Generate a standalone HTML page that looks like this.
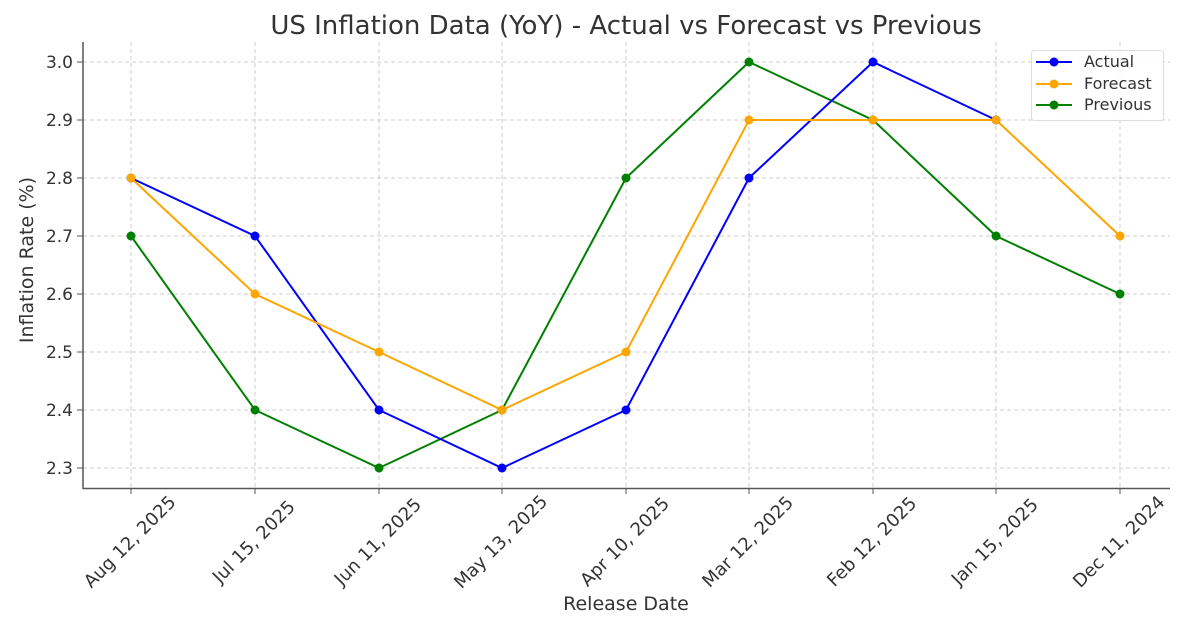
<!DOCTYPE html>
<html><head><style>body{margin:0;background:#fff}</style></head><body>
<svg width="1200" height="630" xmlns="http://www.w3.org/2000/svg" font-family="DejaVu Sans, sans-serif">
<rect width="1200" height="630" fill="#fff"/>
<text x="626" y="34" font-size="26" text-anchor="middle" fill="#333">US Inflation Data (YoY) - Actual vs Forecast vs Previous</text>
<g stroke="#ccc" stroke-dasharray="4,3" stroke-width="1">
<line x1="83" x2="1170" y1="62" y2="62"/><line x1="83" x2="1170" y1="120" y2="120"/><line x1="83" x2="1170" y1="178" y2="178"/><line x1="83" x2="1170" y1="236" y2="236"/><line x1="83" x2="1170" y1="294" y2="294"/><line x1="83" x2="1170" y1="352" y2="352"/><line x1="83" x2="1170" y1="410" y2="410"/><line x1="83" x2="1170" y1="468" y2="468"/>
<line y1="42" y2="488" x1="131" x2="131"/><line y1="42" y2="488" x1="255" x2="255"/><line y1="42" y2="488" x1="379" x2="379"/><line y1="42" y2="488" x1="502" x2="502"/><line y1="42" y2="488" x1="626" x2="626"/><line y1="42" y2="488" x1="749" x2="749"/><line y1="42" y2="488" x1="873" x2="873"/><line y1="42" y2="488" x1="996" x2="996"/><line y1="42" y2="488" x1="1120" x2="1120"/>
</g>
<g stroke="#555" stroke-width="1.5"><line x1="83" y1="42" x2="83" y2="489"/><line x1="83" y1="488.5" x2="1170" y2="488.5"/></g>
<g stroke="#555"><line x1="77" x2="83" y1="62" y2="62"/><line x1="77" x2="83" y1="120" y2="120"/><line x1="77" x2="83" y1="178" y2="178"/><line x1="77" x2="83" y1="236" y2="236"/><line x1="77" x2="83" y1="294" y2="294"/><line x1="77" x2="83" y1="352" y2="352"/><line x1="77" x2="83" y1="410" y2="410"/><line x1="77" x2="83" y1="468" y2="468"/>
<line y1="488" y2="494" x1="131" x2="131"/><line y1="488" y2="494" x1="255" x2="255"/><line y1="488" y2="494" x1="379" x2="379"/><line y1="488" y2="494" x1="502" x2="502"/><line y1="488" y2="494" x1="626" x2="626"/><line y1="488" y2="494" x1="749" x2="749"/><line y1="488" y2="494" x1="873" x2="873"/><line y1="488" y2="494" x1="996" x2="996"/><line y1="488" y2="494" x1="1120" x2="1120"/></g>
<g font-size="17" fill="#333" text-anchor="end">
<text x="73" y="68">3.0</text><text x="73" y="126">2.9</text><text x="73" y="184">2.8</text><text x="73" y="242">2.7</text><text x="73" y="300">2.6</text><text x="73" y="358">2.5</text><text x="73" y="416">2.4</text><text x="73" y="474">2.3</text>
</g>
<g font-size="18" fill="#333" text-anchor="middle">
<text transform="translate(134,546) rotate(-45)">Aug 12, 2025</text>
<text transform="translate(258,546) rotate(-45)">Jul 15, 2025</text>
<text transform="translate(382,546) rotate(-45)">Jun 11, 2025</text>
<text transform="translate(505,546) rotate(-45)">May 13, 2025</text>
<text transform="translate(629,546) rotate(-45)">Apr 10, 2025</text>
<text transform="translate(752,546) rotate(-45)">Mar 12, 2025</text>
<text transform="translate(876,546) rotate(-45)">Feb 12, 2025</text>
<text transform="translate(999,546) rotate(-45)">Jan 15, 2025</text>
<text transform="translate(1123,546) rotate(-45)">Dec 11, 2024</text>
</g>
<text x="626" y="610" font-size="19" fill="#333" text-anchor="middle">Release Date</text>
<text transform="translate(33,260) rotate(-90)" font-size="19" fill="#333" text-anchor="middle">Inflation Rate (%)</text>
<g fill="none" stroke-width="2">
<polyline stroke="#008000" points="131,236 255,410 379,468 502,410 626,178 749,62 873,120 996,236 1120,294"/>
<polyline stroke="#0000ff" points="131,178 255,236 379,410 502,468 626,410 749,178 873,62 996,120"/>
<polyline stroke="#ffa500" points="131,178 255,294 379,352 502,410 626,352 749,120 873,120 996,120 1120,236"/>
</g>
<g fill="#008000"><circle cx="131" cy="236" r="4.5"/><circle cx="255" cy="410" r="4.5"/><circle cx="379" cy="468" r="4.5"/><circle cx="502" cy="410" r="4.5"/><circle cx="626" cy="178" r="4.5"/><circle cx="749" cy="62" r="4.5"/><circle cx="873" cy="120" r="4.5"/><circle cx="996" cy="236" r="4.5"/><circle cx="1120" cy="294" r="4.5"/></g>
<g fill="#0000ff"><circle cx="131" cy="178" r="4.5"/><circle cx="255" cy="236" r="4.5"/><circle cx="379" cy="410" r="4.5"/><circle cx="502" cy="468" r="4.5"/><circle cx="626" cy="410" r="4.5"/><circle cx="749" cy="178" r="4.5"/><circle cx="873" cy="62" r="4.5"/><circle cx="996" cy="120" r="4.5"/></g>
<g fill="#ffa500"><circle cx="131" cy="178" r="4.5"/><circle cx="255" cy="294" r="4.5"/><circle cx="379" cy="352" r="4.5"/><circle cx="502" cy="410" r="4.5"/><circle cx="626" cy="352" r="4.5"/><circle cx="749" cy="120" r="4.5"/><circle cx="873" cy="120" r="4.5"/><circle cx="996" cy="120" r="4.5"/><circle cx="1120" cy="236" r="4.5"/></g>
<rect x="1031.5" y="50.5" width="132" height="70" rx="3" fill="#fff" fill-opacity="0.85" stroke="#ddd"/>
<g stroke-width="2"><line x1="1036" x2="1072" y1="62" y2="62" stroke="#0000ff"/><line x1="1036" x2="1072" y1="84" y2="84" stroke="#ffa500"/><line x1="1036" x2="1072" y1="105" y2="105" stroke="#008000"/></g>
<circle cx="1054" cy="62" r="4.5" fill="#0000ff"/><circle cx="1054" cy="84" r="4.5" fill="#ffa500"/><circle cx="1054" cy="105" r="4.5" fill="#008000"/>
<g font-size="16" fill="#333"><text x="1084" y="67">Actual</text><text x="1084" y="89">Forecast</text><text x="1084" y="110">Previous</text></g>
</svg>
</body></html>
